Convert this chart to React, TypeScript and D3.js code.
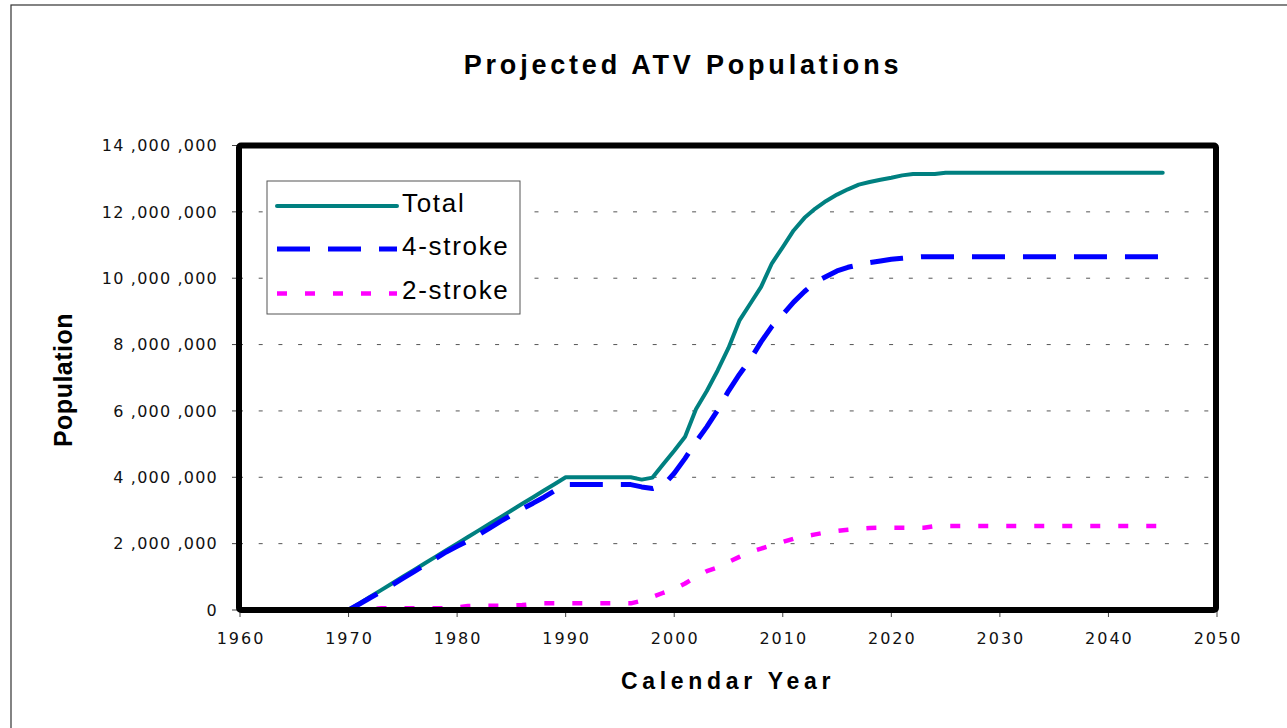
import * as d3 from "d3";

const W = 1287;
const H = 728;
const PLOT = { left: 239, top: 145.5, right: 1216, bottom: 610 };

const years = d3.range(1970, 2046);

// values in millions
const totalM = [
  0, 0.2, 0.4, 0.6, 0.8, 1.0, 1.2, 1.4, 1.6, 1.8,
  2.0, 2.2, 2.4, 2.6, 2.8, 3.0, 3.2, 3.4, 3.6, 3.8,
  4.0, 4.0, 4.0, 4.0, 4.0, 4.0, 4.0, 3.93, 3.99, 4.4,
  4.8, 5.22, 6.05, 6.6, 7.22, 7.9, 8.72, 9.23, 9.74, 10.45,
  10.94, 11.44, 11.82, 12.1, 12.33, 12.52, 12.68, 12.82, 12.9, 12.97,
  13.03, 13.1, 13.14, 13.14, 13.14, 13.18, 13.18, 13.18, 13.18, 13.18,
  13.18, 13.18, 13.18, 13.18, 13.18, 13.18, 13.18, 13.18, 13.18, 13.18,
  13.18, 13.18, 13.18, 13.18, 13.18, 13.18,
];

const fourStrokeM = [
  0, 0.18, 0.37, 0.55, 0.75, 0.95, 1.15, 1.35, 1.55, 1.75,
  1.92, 2.08, 2.27, 2.47, 2.67, 2.86, 3.05, 3.22, 3.4, 3.6,
  3.78, 3.78, 3.78, 3.78, 3.78, 3.78, 3.78, 3.71, 3.66, 3.76,
  4.12, 4.57, 5.07, 5.52, 6.02, 6.6, 7.1, 7.55, 8.08, 8.55,
  8.9, 9.28, 9.6, 9.88, 10.05, 10.22, 10.33, 10.4, 10.47, 10.52,
  10.57, 10.6, 10.63, 10.65, 10.65, 10.65, 10.65, 10.65, 10.65, 10.65,
  10.65, 10.65, 10.65, 10.65, 10.65, 10.65, 10.65, 10.65, 10.65, 10.65,
  10.65, 10.65, 10.65, 10.65, 10.65, 10.65,
];

const twoStrokeM = [
  0, 0.02, 0.03, 0.05, 0.05, 0.05, 0.05, 0.05, 0.05, 0.05,
  0.08, 0.12, 0.13, 0.13, 0.13, 0.14, 0.15, 0.18, 0.2, 0.2,
  0.2, 0.2, 0.2, 0.2, 0.2, 0.2, 0.2, 0.28, 0.4, 0.52,
  0.63, 0.8, 1.0, 1.17, 1.28, 1.45, 1.6, 1.75, 1.85, 1.95,
  2.05, 2.15, 2.22, 2.28, 2.34, 2.38, 2.42, 2.45, 2.47, 2.48,
  2.48, 2.48, 2.48, 2.48, 2.53, 2.53, 2.53, 2.53, 2.53, 2.53,
  2.53, 2.53, 2.53, 2.53, 2.53, 2.53, 2.53, 2.53, 2.53, 2.53,
  2.53, 2.53, 2.53, 2.53, 2.53, 2.53,
];

const xTicks = [1960, 1970, 1980, 1990, 2000, 2010, 2020, 2030, 2040, 2050];
const yTicks = [0, 2e6, 4e6, 6e6, 8e6, 10e6, 12e6, 14e6];

const series = [
  { name: "Total", values: totalM, color: "#008080", width: 4, dash: null, cap: "round" },
  { name: "4-stroke", values: fourStrokeM, color: "#0000FF", width: 5, dash: "33,18", cap: "butt" },
  { name: "2-stroke", values: twoStrokeM, color: "#FF00FF", width: 4.5, dash: "10,18", cap: "butt" },
];

const SANS = "'Liberation Sans', Arial, sans-serif";
const TICK_FONT = "'DejaVu Sans', sans-serif";

export default function App() {
  const x = d3.scaleLinear().domain([1960, 2050]).range([240, 1217]);
  const y = d3.scaleLinear().domain([0, 14e6]).range([PLOT.bottom, PLOT.top]);

  const line = d3
    .line<number>()
    .x((_, i) => x(years[i]))
    .y((v) => y(v * 1e6));

  const fmt = (v: number) => d3.format(",")(v).replace(/,/g, " ,");

  return (
    <svg
      width={W}
      height={H}
      style={{ position: "absolute", left: 0, top: 0, background: "#fff" }}
    >
      {/* outer chart frame */}
      <rect x={11} y={5} width={1400} height={900} fill="#fff" stroke="#333" strokeWidth={1.2} />

      <text
        x={683}
        y={74}
        textAnchor="middle"
        fontFamily={SANS}
        fontWeight="bold"
        fontSize={27}
        letterSpacing={3.8}
      >
        Projected ATV Populations
      </text>

      {/* grid */}
      <g>
        {yTicks
          .filter((t) => t > 0 && t < 14e6)
          .map((t) => (
            <line
              key={t}
              x1={PLOT.left}
              x2={PLOT.right - 4}
              y1={y(t)}
              y2={y(t)}
              stroke="#555"
              strokeWidth={1}
              strokeDasharray="4,15.7"
            />
          ))}
      </g>

      {/* y axis ticks + labels */}
      <g>
        {yTicks.map((t) => (
          <g key={t}>
            <line x1={232} x2={PLOT.left} y1={y(t)} y2={y(t)} stroke="#444" strokeWidth={1} />
            <text
              x={218}
              y={y(t)}
              dy="0.36em"
              textAnchor="end"
              fontFamily={TICK_FONT}
              fontSize={16}
              letterSpacing={1.2}
              fill="#111"
            >
              {fmt(t)}
            </text>
          </g>
        ))}
      </g>

      {/* x axis ticks + labels */}
      <g>
        {xTicks.map((t) => (
          <g key={t}>
            <line x1={x(t)} x2={x(t)} y1={PLOT.bottom} y2={617} stroke="#444" strokeWidth={1} />
            <text
              x={x(t) + 1}
              y={644}
              textAnchor="middle"
              fontFamily={TICK_FONT}
              fontSize={16}
              letterSpacing={2}
              fill="#111"
            >
              {t}
            </text>
          </g>
        ))}
      </g>

      {/* series */}
      <g>
        {series.map((s) => (
          <path
            key={s.name}
            d={line(s.values) ?? ""}
            fill="none"
            stroke={s.color}
            strokeWidth={s.width}
            strokeDasharray={s.dash ?? undefined}
            strokeLinecap={s.cap as any}
            strokeLinejoin="round"
          />
        ))}
      </g>

      {/* plot border */}
      <rect
        x={PLOT.left}
        y={PLOT.top}
        width={PLOT.right - PLOT.left}
        height={PLOT.bottom - PLOT.top}
        fill="none"
        stroke="#000"
        strokeWidth={6}
        rx={2}
      />

      {/* legend */}
      <g>
        <rect x={267} y={181} width={253} height={133} fill="#fff" stroke="#555" strokeWidth={1} />
        {series.map((s, i) => {
          const ly = [206, 249, 293.5][i];
          const ty = [211.5, 255, 298.5][i];
          return (
            <g key={s.name}>
              <line
                x1={277}
                x2={397}
                y1={ly}
                y2={ly}
                stroke={s.color}
                strokeWidth={s.width}
                strokeDasharray={s.dash ?? undefined}
                strokeLinecap={s.cap as any}
              />
              <text
                x={402}
                y={ty}
                fontFamily={SANS}
                fontSize={26}
                letterSpacing={1.7}
                fill="#000"
              >
                {s.name}
              </text>
            </g>
          );
        })}
      </g>

      <text
        x={728}
        y={689}
        textAnchor="middle"
        fontFamily={SANS}
        fontWeight="bold"
        fontSize={23}
        letterSpacing={4.7}
      >
        Calendar Year
      </text>

      <text
        transform="translate(72,380) rotate(-90)"
        textAnchor="middle"
        fontFamily={SANS}
        fontWeight="bold"
        fontSize={25}
        letterSpacing={0.5}
      >
        Population
      </text>
    </svg>
  );
}
